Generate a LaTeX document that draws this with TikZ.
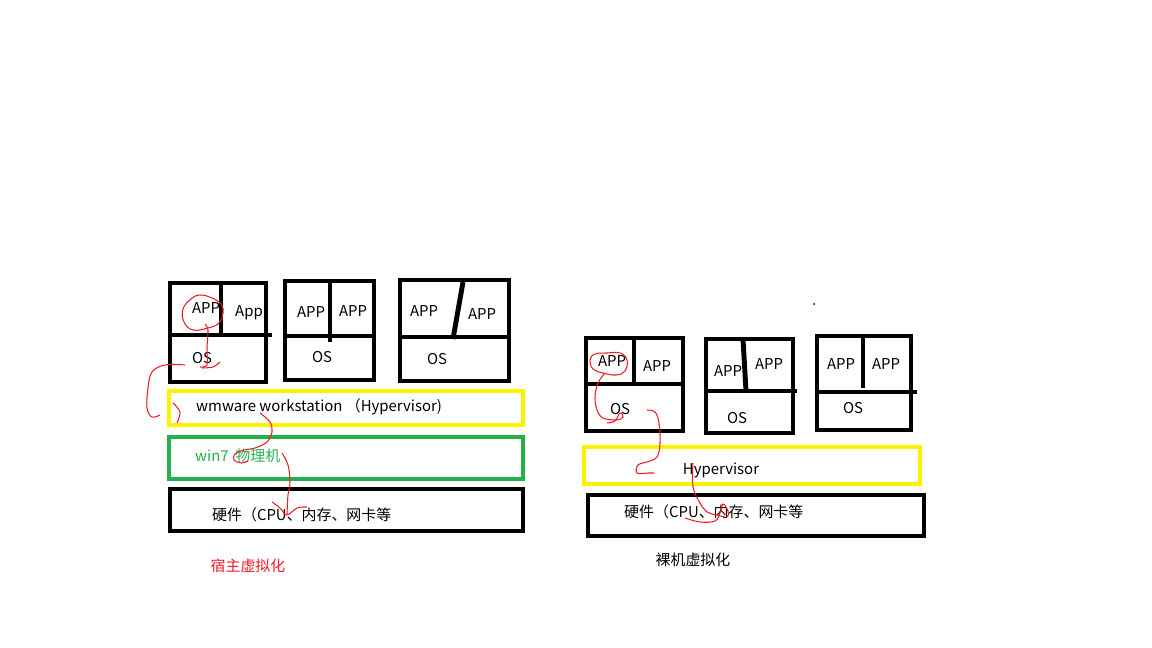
\documentclass[tikz,border=0pt]{standalone}
\usepackage{fontspec}
\setmainfont{Noto Sans CJK SC}
\definecolor{paintyellow}{RGB}{255,242,0}
\definecolor{paintgreen}{RGB}{34,177,76}
\definecolor{paintred}{RGB}{237,28,36}
\begin{document}
\begin{tikzpicture}[x=0.02cm,y=-0.02cm,font=\fontsize{8.5pt}{10pt}\selectfont,
  frame/.style={line width=2.8pt},
  scribble/.style={paintred,line width=0.6pt}]
\useasboundingbox (0,0) rectangle (1152,648);

% host virtualization: three guests
\draw[frame] (170,283) rectangle (266,382);
\draw[frame] (170,335) -- (272,335);
\draw[frame] (221,283) -- (221,335);
\draw[frame] (285,281) rectangle (374,380);
\draw[frame] (285,336) -- (374,336);
\draw[frame] (330,281) -- (330,342);
\draw[frame] (400,280) rectangle (509,381);
\draw[frame] (400,337) -- (509,337);
\draw[frame] (463,282) -- (453,339);

\node (app1a) at (206,308) {APP};
\node (app1b) at (249,313) {App};
\node (os1) at (202,358) {OS};
\node (app2a) at (311,312) {APP};
\node (app2b) at (353,311) {APP};
\node (os2) at (322,357) {OS};
\node (app3a) at (424,311) {APP};
\node (app3b) at (482,314) {APP};
\node (os3) at (437,359) {OS};

% host layers
\draw[frame,paintyellow] (169,391) rectangle (523,425);
\draw[frame,paintgreen] (169,437) rectangle (523,479);
\draw[frame] (170,489) rectangle (523,531);
\node[anchor=west] (hyper1) at (190,407) {wmware workstation （Hypervisor)};
\node[anchor=west,text=paintgreen] (win) at (189,456) {win7 \ 物理机};
\node[anchor=west] (hw1) at (206,515) {硬件（CPU、内存、网卡等};
\node[text=paintred] (host) at (248,566) {宿主虚拟化};

% bare metal virtualization: three guests
\draw[frame] (586,338) rectangle (683,431);
\draw[frame] (586,384) -- (683,384);
\draw[frame] (634,338) -- (634,384);
\draw[frame] (706,339) rectangle (793,433);
\draw[frame] (706,391) -- (797,391);
\draw[frame] (743,339) -- (746,391);
\draw[frame] (817,336) rectangle (911,430);
\draw[frame] (817,392) -- (917,392);
\draw[frame] (863,336) -- (863,388);

\node (app4a) at (612,361) {APP};
\node (app4b) at (657,366) {APP};
\node (os4) at (620,409) {OS};
\node (app5a) at (728,371) {APP};
\node (app5b) at (769,364) {APP};
\node (os5) at (737,418) {OS};
\node (app6a) at (841,364) {APP};
\node (app6b) at (886,364) {APP};
\node (os6) at (853,408) {OS};
\fill (814,304) circle (1);

% bare metal layers
\draw[frame,paintyellow] (584,447) rectangle (920,484);
\draw[frame] (588,495) rectangle (924,536);
\node (hyper2) at (721,470) {Hypervisor};
\node[anchor=west] (hw2) at (618,512) {硬件（CPU、内存、网卡等};
\node (bare) at (693,560) {裸机虚拟化};

% red call path, host side
\draw[scribble] plot[smooth cycle,tension=0.7] coordinates {(200,295) (212,298) (221,304) (223,313) (219,323) (208,328) (193,330) (184,322) (183,309) (191,299)};
\draw[scribble] plot[smooth,tension=0.5] coordinates {(205,324) (208,330) (207,348) (207,365) (200,367)};
\draw[scribble] plot[smooth,tension=0.5] coordinates {(220,362) (213,367) (202,368)};
\draw[scribble] plot[smooth,tension=0.6] coordinates {(185,365) (165,365) (152,372) (148,388) (147,408) (152,417) (160,415)};
\draw[scribble] plot[smooth,tension=0.6] coordinates {(173,403) (180,412) (177,423)};
\draw[scribble] plot[smooth,tension=0.6] coordinates {(260,413) (270,422) (272,432) (267,442) (255,448) (244,450) (235,454) (234,460) (241,463) (248,461)};
\draw[scribble] plot[smooth,tension=0.6] coordinates {(282,453) (288,465) (290,482) (288,495) (287,514)};
\draw[scribble] plot[smooth,tension=0.6] coordinates {(272,502) (280,508) (287,515) (297,508) (307,507)};

% red call path, bare metal side
\draw[scribble] plot[smooth cycle,tension=0.7] coordinates {(590,360) (595,354) (607,353) (620,353) (627,360) (625,371) (616,375) (603,373) (593,369)};
\draw[scribble] plot[smooth,tension=0.6] coordinates {(605,373) (598,383) (595,397) (597,410) (603,418) (617,420) (623,417) (620,413) (615,421) (607,423)};
\draw[scribble] plot[smooth,tension=0.6] coordinates {(647,410) (655,412) (659,423) (660,443) (657,457) (647,462) (638,465) (637,473) (648,473) (654,473)};
\draw[scribble] plot[smooth,tension=0.6] coordinates {(693,463) (693,487) (700,503) (707,512) (717,515) (727,517) (728,511) (723,504) (720,513) (715,521) (700,522) (685,518)};
\end{tikzpicture}
\end{document}
